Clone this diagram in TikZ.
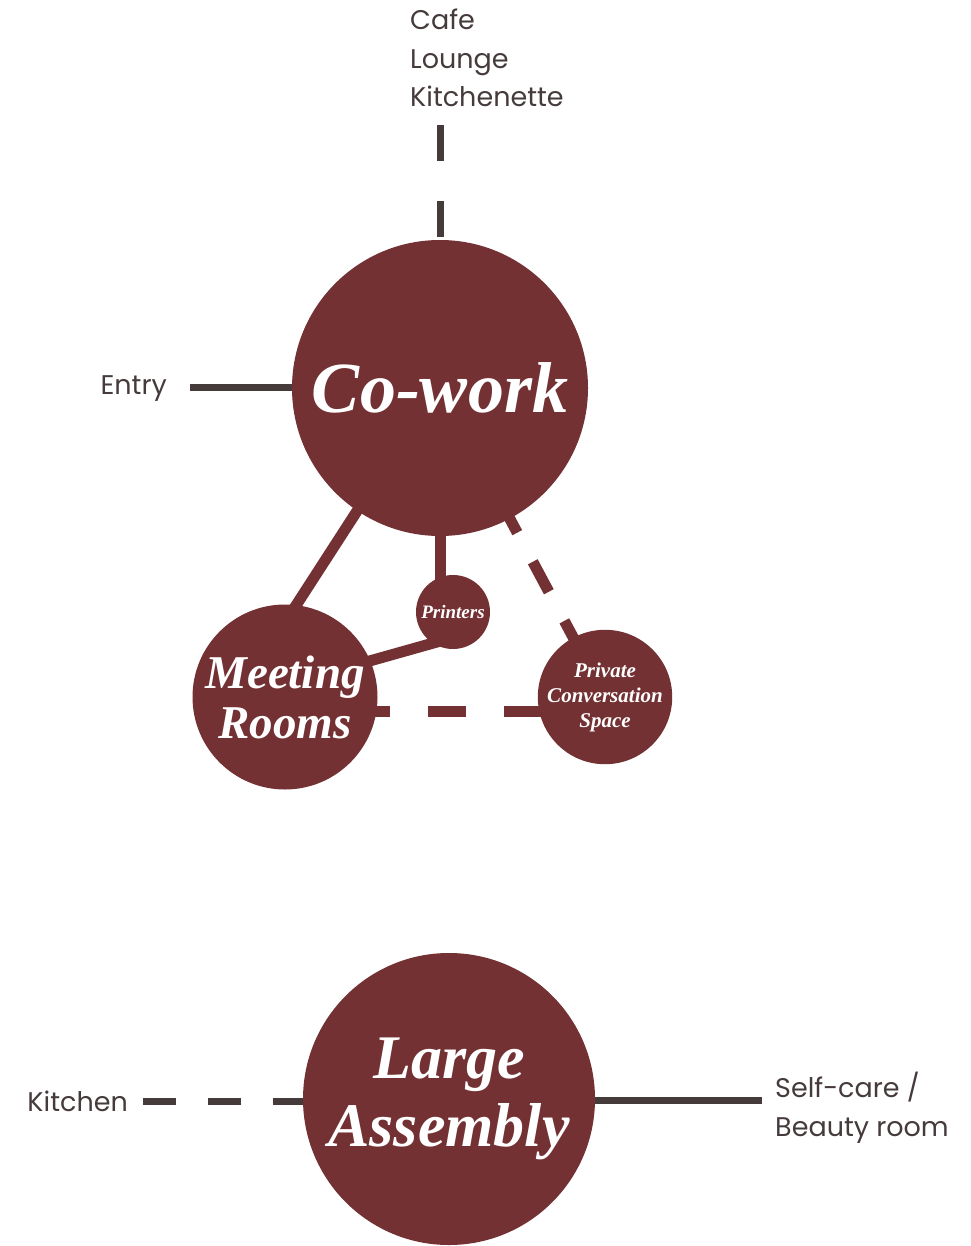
\documentclass[tikz,border=0pt]{standalone}
\usepackage{fontspec}
\setmainfont{Liberation Serif}
\newfontfamily\labelfont{Poppins}
\usetikzlibrary{backgrounds}

\definecolor{wine}{HTML}{733133}
\definecolor{ink}{HTML}{453B3B}

\begin{document}
\begin{tikzpicture}[x=1pt, y=-1pt, line cap=butt,
  room/.style={circle, fill=wine, text=white, inner sep=0pt, align=center},
  roomfont/.style 2 args={font=\bfseries\itshape\fontsize{#1}{#2}\selectfont},
  tag/.style={text=ink, inner sep=0pt, align=left, font=\labelfont\fontsize{27}{38.5}\selectfont},
  link/.style={line width=11pt, wine},
  wire/.style={line width=7pt, ink}]
  \useasboundingbox (0,0) rectangle (970,1246);

  % rooms
  \node[room, roomfont={72}{72}, minimum size=296] (cowork) at (440,388) {Co-work};
  \node[room, roomfont={47}{50}, minimum size=185] (meet) at (285,697) {Meeting\\Rooms};
  \node[room, roomfont={19}{19}, minimum size=74] (prn) at (453,612) {Printers};
  \node[room, roomfont={21}{25}, minimum size=130] (priv) at (605,697) {Private\\Conversation\\Space};
  \node[room, roomfont={62}{68}, minimum size=292] (asm) at (449,1099) {Large\\Assembly};

  % labels
  \node[tag, anchor=north west] (extras) at (410,9) {Cafe\\Lounge\\Kitchenette};
  \node[tag, anchor=base east] (entry) at (167,394) {Entry};
  \node[tag, anchor=base east] (kitchen) at (128,1111) {Kitchen};
  \node[tag, anchor=north west] (selfcare) at (775,1072) {Self-care /\\Beauty room};

  \coordinate (extrasend) at (440,125);
  \coordinate (entryend) at (190,387);
  \coordinate (kitchenend) at (143,1101);
  \coordinate (selfcareend) at (762,1100);

  % connectors
  \begin{scope}[on background layer]
    \draw[link, shorten <=-15pt, shorten >=-15pt] (cowork.236) -- (meet.83);
    \draw[link] (cowork.center) -- (cowork.center |- prn.center);
    \draw[link, shorten <=-12pt, shorten >=-15pt] (prn.237) -- (meet.23);
    \draw[link, dash pattern=on 34pt off 33pt, dash phase=4pt] (cowork.center) -- (priv.center);
    \draw[link, dash pattern=on 38pt off 38pt, dash phase=9pt] ([yshift=-14pt]meet.center) -- ([yshift=-14pt]priv.center);
    \draw[wire, dash pattern=on 36pt off 40pt] (extrasend) -- (cowork.center);
    \draw[wire] (entryend) -- (entryend -| cowork.center);
    \draw[wire, dash pattern=on 33pt off 32pt] (kitchenend) -- (kitchenend -| asm.center);
    \draw[wire] (selfcareend) -- (selfcareend -| asm.center);
  \end{scope}
\end{tikzpicture}
\end{document}
